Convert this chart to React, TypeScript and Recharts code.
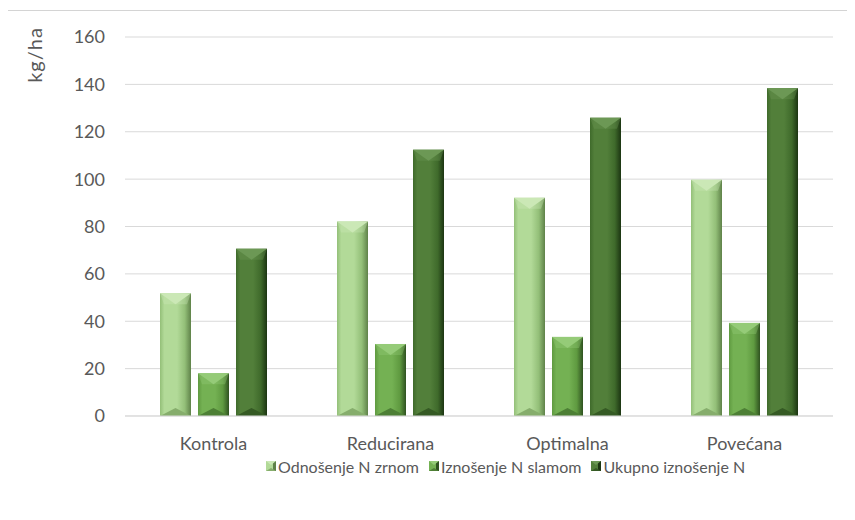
import { BarChart, Bar, XAxis, YAxis, CartesianGrid } from "recharts";

const categories = ["Kontrola", "Reducirana", "Optimalna", "Povećana"];
const grainN = [51.8, 82.1, 92.1, 99.7];
const strawN = [18.0, 30.4, 33.4, 39.3];
const totalN = [70.6, 112.4, 125.9, 138.4];
const yTicks = [0, 20, 40, 60, 80, 100, 120, 140, 160];

const seriesNames = ["Odnošenje N zrnom", "Iznošenje N slamom", "Ukupno iznošenje N"];

// bevel palette per series: [edgeL, mid, edgeR, top, bottom]
const PALETTE = [
  ["#93bf78", "#b2da98", "#5f8249", "#cbe8b6", "#86ad6c"],
  ["#5f9a40", "#74b153", "#2f5220", "#95cb78", "#4d7f35"],
  ["#3f6a2b", "#527f3a", "#1c3512", "#6c9855", "#355a24"],
];

const data = categories.map((c, i) => ({
  name: c,
  grain: grainN[i],
  straw: strawN[i],
  total: totalN[i],
}));

const FONT = "Lato, 'Open Sans', sans-serif";

function bevelShape(idx: number) {
  return (props: any) => {
    const { x, y, width: w, height: h } = props;
    if (!h || h <= 0) return <g />;
    const p = PALETTE[idx];
    const d = Math.min(11, h / 2);
    const db = Math.min(8, h / 2);
    return (
      <g>
        <rect x={x} y={y} width={w} height={h} fill={`url(#bev${idx})`} />
        <polygon points={`${x},${y} ${x + w},${y} ${x + w - 4},${y + d} ${x + w / 2},${y + d} ${x + 4},${y + d}`} fill={p[3]} opacity={0.35} />
        <polygon points={`${x},${y} ${x + w},${y} ${x + w / 2},${y + d}`} fill={p[3]} />
        <polygon points={`${x},${y + h} ${x + w},${y + h} ${x + w / 2},${y + h - db}`} fill={p[4]} />
      </g>
    );
  };
}

function LegendIcon({ idx }: { idx: number }) {
  const p = PALETTE[idx];
  return (
    <svg width={10} height={10} style={{ marginRight: 2 }}>
      <rect x={0} y={0} width={10} height={10} fill={p[1]} />
      <rect x={7} y={0} width={3} height={10} fill={p[2]} />
      <polygon points="0,0 10,0 5,4" fill={p[3]} />
      <polygon points="0,10 10,10 5,7" fill={p[4]} />
    </svg>
  );
}

export default function App() {
  return (
    <div
      style={{
        position: "relative",
        width: 848,
        height: 509,
        borderTop: "1px solid #d4d4d4",
        borderLeft: "1px solid #d4d4d4",
        marginLeft: -2,
        marginTop: 2,
        background: "#fff",
      }}
    >
      <div
        style={{
          position: "absolute",
          left: -8,
          top: 33,
          width: 70,
          height: 22,
          lineHeight: "22px",
          transform: "rotate(-90deg)",
          fontFamily: FONT,
          fontSize: 20,
          letterSpacing: 1,
          color: "#595959",
          textAlign: "center",
        }}
      >
        kg/ha
      </div>
      <BarChart
        width={848}
        height={509}
        data={data}
        margin={{ top: 26, right: 22, left: 0, bottom: 0 }}
        barSize={31}
        barGap={7}
      >
        <defs>
          {PALETTE.map((p, i) => (
            <linearGradient key={i} id={`bev${i}`} x1="0" y1="0" x2="1" y2="0">
              <stop offset="0%" stopColor={p[0]} />
              <stop offset="14%" stopColor={p[1]} />
              <stop offset="55%" stopColor={p[1]} />
              <stop offset="80%" stopColor={p[0]} />
              <stop offset="100%" stopColor={p[2]} />
            </linearGradient>
          ))}
        </defs>
        <CartesianGrid vertical={false} stroke="#d9d9d9" strokeWidth={1} />
        <XAxis
          dataKey="name"
          axisLine={{ stroke: "#d9d9d9" }}
          tickLine={false}
          tickSize={0}
          tickMargin={21}
          tick={{ fill: "#595959", fontSize: 18, fontFamily: FONT }}
          height={104}
        />
        <YAxis
          domain={[0, 160]}
          ticks={yTicks}
          interval={0}
          width={118}
          axisLine={false}
          tickLine={false}
          tickSize={0}
          tickMargin={20}
          tick={{ fill: "#595959", fontSize: 18, fontFamily: FONT }}
        />
        <Bar dataKey="grain" name={seriesNames[0]} shape={bevelShape(0)} isAnimationActive={false} />
        <Bar dataKey="straw" name={seriesNames[1]} shape={bevelShape(1)} isAnimationActive={false} />
        <Bar dataKey="total" name={seriesNames[2]} shape={bevelShape(2)} isAnimationActive={false} />
      </BarChart>
      <div
        style={{
          position: "absolute",
          left: 259,
          top: 444,
          height: 22,
          display: "flex",
          alignItems: "center",
          fontFamily: FONT,
          fontSize: 16,
          color: "#595959",
          whiteSpace: "nowrap",
        }}
      >
        {seriesNames.map((n, i) => (
          <div key={n} style={{ display: "flex", alignItems: "center", marginRight: 10 }}>
            <LegendIcon idx={i} />
            <span>{n}</span>
          </div>
        ))}
      </div>
    </div>
  );
}
